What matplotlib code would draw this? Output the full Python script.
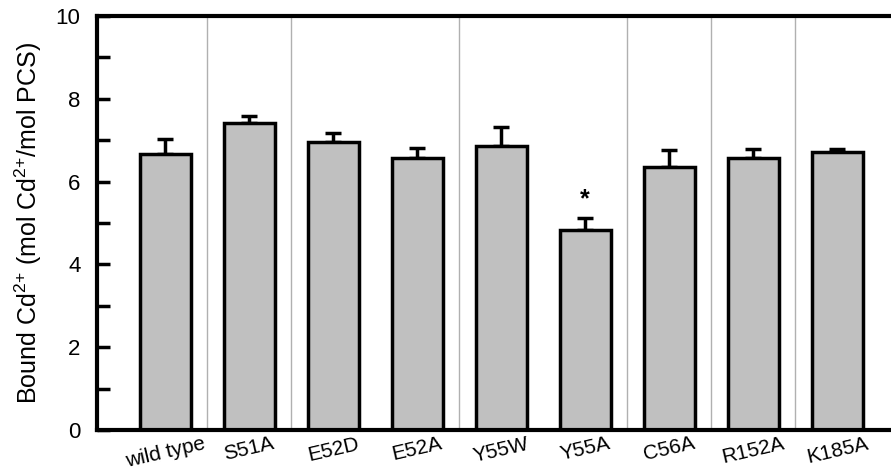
from matplotlib import pyplot as plt
from matplotlib.ticker import MultipleLocator
import numpy as np

plt.rcParams['font.family'] = ['Liberation Sans', 'DejaVu Sans']
plt.rcParams['mathtext.fontset'] = 'custom'
plt.rcParams['mathtext.rm'] = 'Liberation Sans'
plt.rcParams['mathtext.it'] = 'Liberation Sans'

mutants = ["wild type", "S51A", "E52D", "E52A", "Y55W", "Y55A", "C56A", "R152A", "K185A"]
bound_cd = [6.67, 7.42, 6.95, 6.56, 6.85, 4.83, 6.36, 6.58, 6.72]
sem = [0.35, 0.16, 0.22, 0.26, 0.48, 0.29, 0.40, 0.22, 0.08]
significant = ["Y55A"]

fig = plt.figure(figsize=(8.91, 4.72), dpi=100)
ax = fig.add_axes([0.109, 0.089, 0.891, 0.877])

x = np.arange(len(mutants))

# thin grey separators between some groups (as in the original)
for i in [0, 1, 3, 5, 6, 7]:
    ax.axvline(i + 0.5, color="#b0b0b0", lw=1, zorder=0)

ax.bar(x, bound_cd, width=0.61, color="#c0c0c0", edgecolor="black", linewidth=2.5, zorder=2)
ax.errorbar(x, bound_cd, yerr=[np.zeros(len(sem)), sem], fmt="none", ecolor="black",
            elinewidth=2.5, capsize=6, capthick=2.5, zorder=1)

for name in significant:
    i = mutants.index(name)
    ax.text(i, bound_cd[i] + sem[i] + 0.45, "*", ha="center", va="center", fontsize=18, fontweight="bold")

ax.set_xlim(-0.81, 8.64)
ax.set_ylim(0, 10)
ax.yaxis.set_major_locator(MultipleLocator(2))
ax.yaxis.set_minor_locator(MultipleLocator(1))
ax.tick_params(axis="y", which="both", direction="in", length=9, width=2.5, labelsize=16, pad=12)
ax.tick_params(axis="x", length=0, labelsize=15, pad=3)
ax.set_xticks(x)
ax.set_xticklabels(mutants, rotation=13, ha="center")

for side in ["left", "bottom", "top"]:
    ax.spines[side].set_linewidth(3)
ax.spines["right"].set_visible(False)

ax.set_ylabel("Bound Cd$^{2{+}}$ (mol Cd$^{2{+}}$/mol PCS)", fontsize=18, labelpad=8)

plt.savefig("out.png", dpi=100)
